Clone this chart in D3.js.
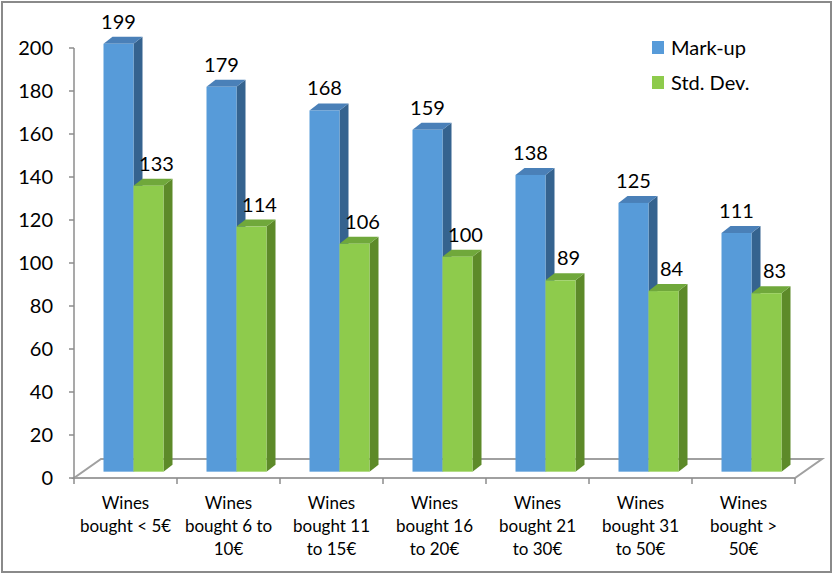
<!DOCTYPE html>
<html><head><meta charset="utf-8">
<script src="https://cdn.jsdelivr.net/npm/d3@7"></script>
<style>html,body{margin:0;padding:0;background:#fff;}svg{display:block;}</style>
</head><body>
<svg id="c" width="834" height="575"></svg>
<script>
const categories = [
  ["Wines", "bought < 5€"],
  ["Wines", "bought 6 to", "10€"],
  ["Wines", "bought 11", "to 15€"],
  ["Wines", "bought 16", "to 20€"],
  ["Wines", "bought 21", "to 30€"],
  ["Wines", "bought 31", "to 50€"],
  ["Wines", "bought >", "50€"]
];
const markup = [199, 179, 168, 159, 138, 125, 111];
const stdDev = [133, 114, 106, 100, 89, 84, 83];
const seriesNames = ["Mark-up", "Std. Dev."];
const yTicks = [0, 20, 40, 60, 80, 100, 120, 140, 160, 180, 200];

const FONT = "Lato, 'Open Sans', sans-serif";
const svg = d3.select("#c");

// border
svg.append("rect").attr("x", 2).attr("y", 2).attr("width", 829).attr("height", 570)
  .attr("fill", "#fff").attr("stroke", "#8a8a8a").attr("stroke-width", 2);

const x0 = 74, x1 = 795, yBase = 478, yTop = 48;
const depthX = 27, depthY = -19;
const y = d3.scaleLinear().domain([0, 200]).range([yBase, yTop]);
const xBand = d3.scaleBand().domain(d3.range(categories.length)).range([x0, x1]);

// floor
const floorPts = [[x0, yBase], [x1, yBase], [x1 + depthX, yBase + depthY], [x0 + depthX, yBase + depthY]];
svg.append("polygon").attr("points", floorPts.map(p => p.join(",")).join(" "))
  .attr("fill", "#fff").attr("stroke", "#a0a0a0").attr("stroke-width", 2);

// y axis
svg.append("line").attr("x1", x0).attr("x2", x0).attr("y1", y(200)).attr("y2", yBase)
  .attr("stroke", "#8c8c8c").attr("stroke-width", 1.5);
const yt = svg.append("g");
yTicks.forEach(t => {
  yt.append("line").attr("x1", x0 - 5).attr("x2", x0).attr("y1", y(t)).attr("y2", y(t))
    .attr("stroke", "#8c8c8c").attr("stroke-width", 1.5);
  yt.append("text").attr("x", 53).attr("y", y(t)).attr("dy", "0.36em")
    .attr("text-anchor", "end").attr("font-family", FONT).attr("font-size", 20).attr("fill", "#000").text(t);
});
// front floor edge ticks
d3.range(categories.length + 1).forEach(i => {
  const xx = x0 + i * xBand.step();
  svg.append("line").attr("x1", xx).attr("x2", xx).attr("y1", yBase).attr("y2", yBase + 6)
    .attr("stroke", "#8c8c8c").attr("stroke-width", 1.5);
});

// bars
const colors = [
  {front: "#579bd9", side: "#35638f", top: "#4a80b8"},
  {front: "#8ecb4c", side: "#5d8a29", top: "#70a83b"}
];
const bOffX = 8, bOffY = depthY / 3;   // bar front plane
const bDX = 9, bDY = -7;               // bar depth
const barW = 30;
const data = [markup, stdDev];
const labelShift = [0, 8];
const bars = svg.append("g");
categories.forEach((c, i) => {
  const cx = xBand(i) + xBand.bandwidth() / 2 + bOffX;
  [0, 1].forEach(s => {
    const v = data[s][i];
    const xl = cx - barW + s * barW;
    const xr = xl + barW;
    const yb = y(0) + bOffY;
    const yt2 = y(v) + bOffY;
    const col = colors[s];
    bars.append("polygon").attr("points", [[xr, yb], [xr + bDX, yb + bDY], [xr + bDX, yt2 + bDY], [xr, yt2]].map(p => p.join(",")).join(" "))
      .attr("fill", col.side);
    bars.append("polygon").attr("points", [[xl, yt2], [xr, yt2], [xr + bDX, yt2 + bDY], [xl + bDX, yt2 + bDY]].map(p => p.join(",")).join(" "))
      .attr("fill", col.top);
    bars.append("rect").attr("x", xl).attr("y", yt2).attr("width", barW).attr("height", yb - yt2)
      .attr("fill", col.front);
    bars.append("text").attr("x", xl + barW / 2 + labelShift[s]).attr("y", yt2 + bDY - 8)
      .attr("text-anchor", "middle").attr("font-family", FONT).attr("font-size", 20).attr("fill", "#000").text(v);
  });
});

// category labels
categories.forEach((lines, i) => {
  const cx = xBand(i) + xBand.bandwidth() / 2;
  const t = svg.append("text").attr("text-anchor", "middle").attr("font-family", FONT)
    .attr("font-size", 17).attr("fill", "#000");
  lines.forEach((ln, k) => {
    t.append("tspan").attr("x", cx).attr("y", 509 + k * 23).text(ln);
  });
});

// legend
seriesNames.forEach((n, k) => {
  const ly = 41 + k * 35;
  svg.append("rect").attr("x", 652).attr("y", ly).attr("width", 12).attr("height", 13).attr("fill", colors[k].front);
  svg.append("text").attr("x", 671).attr("y", ly + 6.5).attr("dy", "0.36em")
    .attr("font-family", FONT).attr("font-size", 20).attr("fill", "#000").text(n);
});
</script>
</body></html>
